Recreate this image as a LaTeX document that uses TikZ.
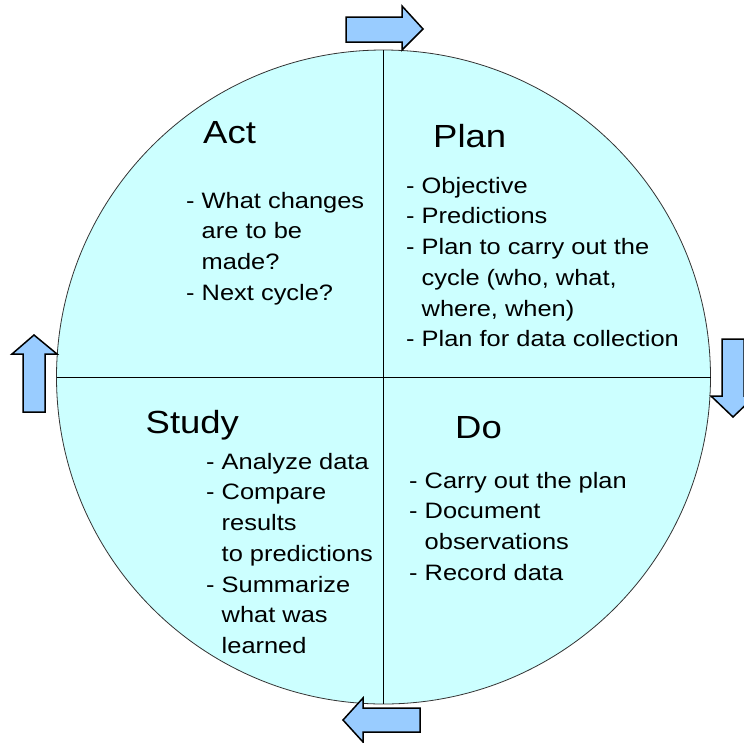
\documentclass[tikz,border=0pt]{standalone}
\usepackage{fontspec}
\setmainfont{Liberation Sans}[FakeStretch=1.14]
\usepackage{xcolor}
\usetikzlibrary{positioning}

\definecolor{cyclefill}{HTML}{CCFFFF}
\definecolor{arrowfill}{HTML}{99CCFF}

\begin{document}
\begin{tikzpicture}[
        phasetitle/.style={anchor=base west, inner sep=0pt, font=\fontsize{32pt}{36pt}\selectfont},
        phaselist/.style={anchor=north west, inner sep=0pt, align=left, font=\fontsize{22.3pt}{30.7pt}\selectfont},
        turnarrow/.style={draw=black, fill=arrowfill, line width=1.5pt, line join=miter},
        divider/.style={line width=0.8pt}
    ]

        \useasboundingbox (0pt,0pt) rectangle (744pt,-742pt);

        % Cycle and quadrants
        \node (cycle) [draw=black!80, fill=cyclefill, circle, minimum size=654pt, inner sep=0pt, outer sep=0pt, line width=0.8pt] at (383.5pt,-377pt) {};
        \draw[divider] (cycle.north) -- (cycle.south);
        \draw[divider] (cycle.west) -- (cycle.east);

        % Titles
        \node (acttitle) [phasetitle] at (203pt,-143pt) {Act};
        \node (plantitle) [phasetitle] at (433pt,-147pt) {Plan};
        \node (studytitle) [phasetitle] at (145.5pt,-433pt) {Study};
        \node (dotitle) [phasetitle] at (455pt,-438pt) {Do};

        % Lists
        \node (actlist) [phaselist] at (186pt,-190pt) {\rule{0pt}{18pt}- What changes\\\phantom{- }are to be\\\phantom{- }made?\\- Next cycle?};
        \node (planlist) [phaselist] at (406pt,-175pt) {\rule{0pt}{18pt}- Objective\\- Predictions\\- Plan to carry out the\\\phantom{- }cycle (who, what,\\\phantom{- }where, when)\\- Plan for data collection};
        \node (studylist) [phaselist] at (206pt,-451pt) {\rule{0pt}{18pt}- Analyze data\\- Compare\\\phantom{- }results\\\phantom{- }to predictions\\- Summarize\\\phantom{- }what was\\\phantom{- }learned};
        \node (dolist) [phaselist] at (409pt,-470pt) {\rule{0pt}{18pt}- Carry out the plan\\- Document\\\phantom{- }observations\\- Record data};

        % Arrows
        \draw[turnarrow] (346pt,-17pt) -- (402pt,-17pt) -- (402pt,-6pt) -- (423pt,-29pt) -- (402pt,-50pt) -- (402pt,-42pt) -- (346pt,-42pt) -- cycle;
        \draw[turnarrow] (722pt,-339pt) -- (744pt,-339pt) -- (744pt,-396pt) -- (755pt,-396pt) -- (733pt,-417pt) -- (711pt,-396pt) -- (722pt,-396pt) -- cycle;
        \draw[turnarrow] (420pt,-708pt) -- (363pt,-708pt) -- (363pt,-698pt) -- (343pt,-720pt) -- (363pt,-742pt) -- (363pt,-732pt) -- (420pt,-732pt) -- cycle;
        \draw[turnarrow] (23pt,-412pt) -- (23pt,-354pt) -- (12pt,-354pt) -- (34pt,-335pt) -- (57pt,-354pt) -- (45pt,-354pt) -- (45pt,-412pt) -- cycle;

    \end{tikzpicture}
\end{document}
